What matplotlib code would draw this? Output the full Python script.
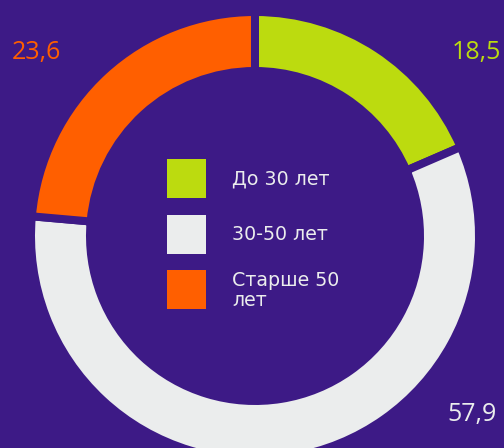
import matplotlib
matplotlib.use("Agg")
import matplotlib.pyplot as plt
from matplotlib.patches import Rectangle

categories = ["До 30 лет", "30-50 лет", "Старше 50\nлет"]
values = [18.5, 57.9, 23.6]
colors = ["#bcdb0f", "#ebeded", "#ff5f00"]
label_colors = ["#bcdb0f", "#ebeded", "#ff5f00"]
bg = "#3d1a86"

W, H = 504, 448
fig = plt.figure(figsize=(W / 72, H / 72), dpi=72, facecolor=bg)
ax = fig.add_axes([0, 0, 1, 1])
ax.set_facecolor(bg)

cx, cy = 255, 236
ax.pie(values, colors=colors, startangle=90, counterclock=False,
       center=(cx, -cy), radius=224,
       wedgeprops=dict(width=59, edgecolor=bg, linewidth=8))
ax.set_xlim(0, W)
ax.set_ylim(-H, 0)
ax.set_aspect("equal")
ax.axis("off")

num_font = ['Open Sans', 'DejaVu Sans']
leg_font = ['DejaVu Sans']

fmt = lambda v: f"{v:.1f}".replace(".", ",")
ax.text(501, -52, fmt(values[0]), color=label_colors[0], fontsize=25, ha="right", va="center", family=num_font)
ax.text(12, -52, fmt(values[2]), color=label_colors[2], fontsize=25, ha="left", va="center", family=num_font)
ax.text(497, -415, fmt(values[1]), color=label_colors[1], fontsize=25, ha="right", va="center", family=num_font)

for i, (cat, col) in enumerate(zip(categories, colors)):
    ytop = 159 + i * 55.5
    ax.add_patch(Rectangle((167, -(ytop + 39)), 39, 39, facecolor=col,
                           edgecolor="none", zorder=10, clip_on=False))
    if "\n" in cat:
        ax.text(232, -(ytop + 1), cat, color="#ebeded", fontsize=19, ha="left", va="top",
                linespacing=1.05, family=leg_font, zorder=11)
    else:
        ax.text(232, -(ytop + 20), cat, color="#ebeded", fontsize=19, ha="left", va="center",
                family=leg_font, zorder=11)

fig.savefig("out.png", dpi=72, facecolor=bg)
